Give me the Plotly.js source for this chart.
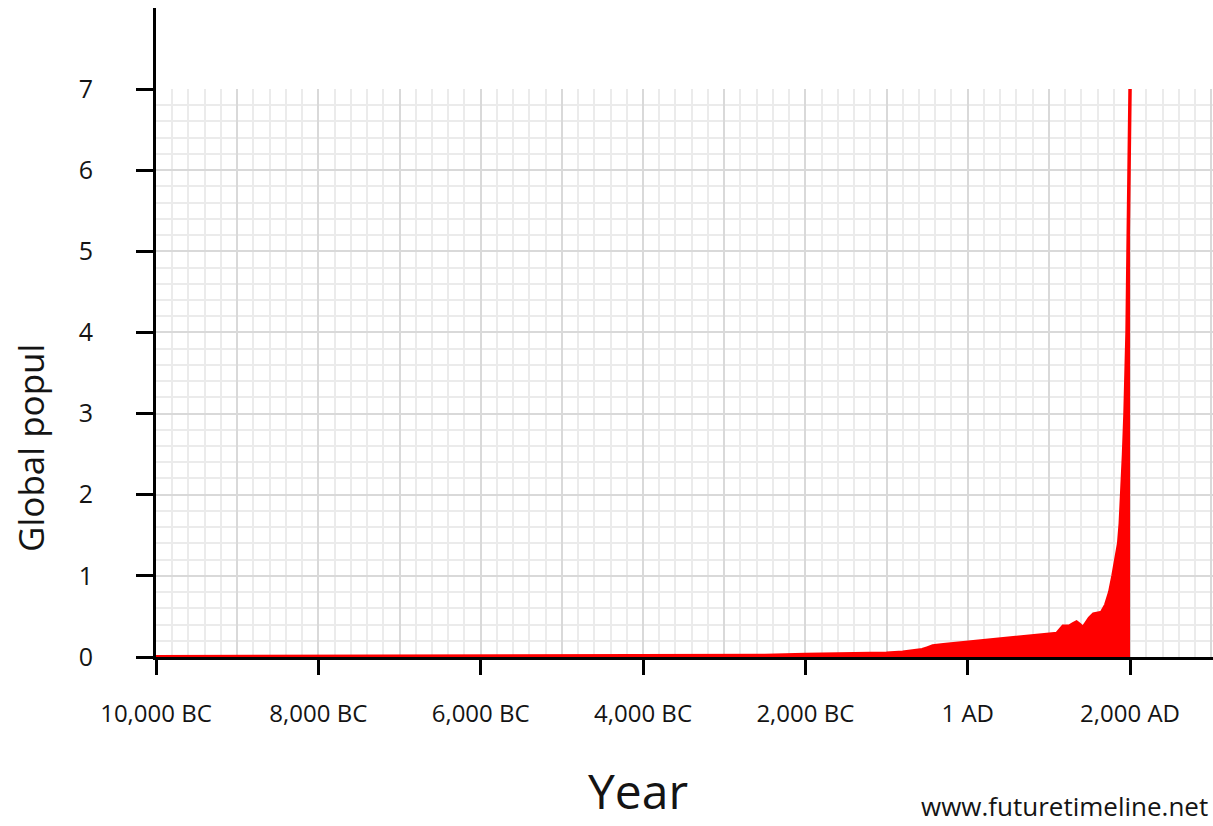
<!DOCTYPE html>
<html>
<head>
<meta charset="utf-8">
<script src="https://cdn.plot.ly/plotly-3.0.1.min.js"></script>
<style>html,body{margin:0;padding:0;background:#fff;}#chart{width:1213px;height:826px;}</style>
</head>
<body>
<div id="chart"></div>
<script>
// Year (negative = BC) and global population in billions
const years = [-10000, -9000, -8000, -7000, -6000, -5000, -4000, -3000, -2500, -2000,
  -1500, -1000, -800, -650, -560, -500, -430, -300, -200, -100, 1, 100, 200, 300, 400,
  500, 600, 700, 800, 900, 1000, 1100, 1175, 1250, 1300, 1340, 1380, 1420, 1460, 1500,
  1550, 1600, 1650, 1700, 1750, 1790, 1830, 1860, 1880, 1900, 1920, 1938, 1963, 1975,
  1987, 2000];
const population = [0.004, 0.005, 0.005, 0.006, 0.007, 0.008, 0.01, 0.015, 0.02, 0.03,
  0.035, 0.045, 0.06, 0.08, 0.09, 0.11, 0.135, 0.15, 0.16, 0.17, 0.18, 0.19, 0.2, 0.21, 0.22,
  0.23, 0.24, 0.25, 0.255, 0.265, 0.27, 0.29, 0.38, 0.38, 0.41, 0.43, 0.4, 0.36, 0.42, 0.48,
  0.53, 0.54, 0.55, 0.64, 0.8, 1.0, 1.2, 1.4, 1.65, 2.0, 2.5, 3.0, 4.0, 5.0,
  6.0, 7.0];

const xTickVals = [-10000, -8000, -6000, -4000, -2000, 0, 2000];
const xTickText = ['10,000 BC', '8,000 BC', '6,000 BC', '4,000 BC', '2,000 BC', '1 AD', '2,000 AD'];
const yTickVals = [0, 1, 2, 3, 4, 5, 6, 7];

const xTitle = 'Year';
const yTitle = 'Global popul';
const credit = 'www.futuretimeline.net';

const FONT = '"Open Sans", "Noto Sans", sans-serif';
const TXT = '#141414';
const xRange = [-10000, 3022];

const traces = [
  {
    x: years, y: population, type: 'scatter', mode: 'lines',
    fill: 'tozeroy', fillcolor: '#ff0000',
    line: {color: '#ff0000', width: 3.5},
    xaxis: 'x', yaxis: 'y', hoverinfo: 'x+y', showlegend: false
  },
  {
    x: [], y: [], type: 'scatter', mode: 'lines', xaxis: 'x2', yaxis: 'y',
    showlegend: false, hoverinfo: 'skip'
  }
];

const layout = {
  width: 1213, height: 826,
  margin: {l: 156, r: 0, t: 89, b: 169},
  paper_bgcolor: '#ffffff', plot_bgcolor: '#ffffff',
  font: {family: FONT, color: TXT},
  showlegend: false,
  xaxis: {
    range: xRange, fixedrange: true,
    tickmode: 'array', tickvals: xTickVals, ticktext: xTickText,
    ticks: 'outside', ticklen: 15, tickwidth: 3, tickcolor: '#000',
    tickfont: {family: FONT, size: 24, color: TXT},
    ticklabelstandoff: 18,
    showline: true, linecolor: '#000', linewidth: 3,
    showgrid: false, zeroline: false
  },
  xaxis2: {
    overlaying: 'x', anchor: 'y', range: xRange, fixedrange: true,
    tickmode: 'linear', tick0: -10000, dtick: 1000,
    showticklabels: false, ticks: '', showline: false, zeroline: false,
    showgrid: true, gridcolor: '#d9d9d9', gridwidth: 2,
    minor: {tickmode: 'linear', tick0: -10000, dtick: 200, showgrid: true, gridcolor: '#ebebeb', gridwidth: 2, ticks: ''}
  },
  yaxis: {
    range: [0, 7], fixedrange: true,
    tickmode: 'array', tickvals: yTickVals,
    ticks: 'outside', ticklen: 17, tickwidth: 3, tickcolor: '#000',
    tickfont: {family: FONT, size: 25, color: TXT},
    ticklabelstandoff: 38,
    showline: true, linecolor: '#000', linewidth: 3,
    showgrid: true, gridcolor: '#d9d9d9', gridwidth: 2, zeroline: false,
    minor: {tickmode: 'linear', tick0: 0, dtick: 0.2, showgrid: true, gridcolor: '#ebebeb', gridwidth: 2, ticks: ''}
  },
  shapes: [
    {type: 'line', xref: 'paper', yref: 'paper', xsizemode: 'pixel', xanchor: 0,
     x0: -1.5, x1: -1.5, y0: 1, y1: 1.1426,
     line: {color: '#000', width: 3}}
  ],
  annotations: [
    {text: xTitle, xref: 'paper', yref: 'paper', x: 0.456, y: -0.2958,
     xanchor: 'center', yanchor: 'bottom', showarrow: false,
     font: {family: FONT, size: 48, color: TXT}},
    {text: yTitle, xref: 'paper', yref: 'paper', x: -0.1183, y: 0.368, textangle: -90,
     xanchor: 'center', yanchor: 'middle', showarrow: false,
     font: {family: FONT, size: 35, color: TXT}},
    {text: credit, xref: 'paper', yref: 'paper',
     x: 0.9975, y: -0.262, xanchor: 'right', yanchor: 'middle', showarrow: false,
     font: {family: FONT, size: 26, color: TXT}}
  ]
};

Plotly.newPlot('chart', traces, layout, {displayModeBar: false, staticPlot: true});
</script>
</body>
</html>
